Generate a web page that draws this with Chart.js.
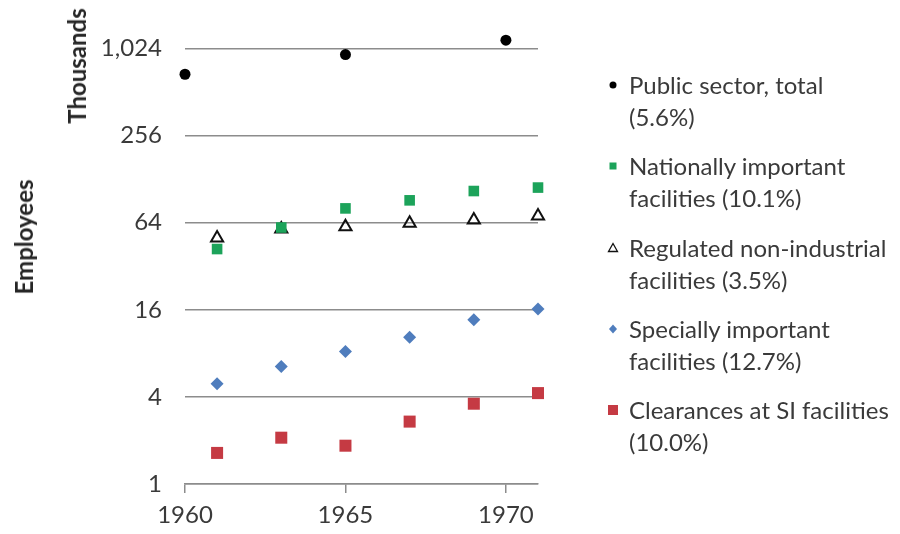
<!DOCTYPE html>
<html>
<head>
<meta charset="utf-8">
<script src="https://cdn.jsdelivr.net/npm/chart.js@4"></script>
<style>
  body { margin: 0; background: #fff; }
  #wrap { position: relative; width: 900px; height: 534px; font-family: Lato, sans-serif; }
  .ytitle { position: absolute; font-weight: bold; font-size: 24px; color: #262626; white-space: nowrap;
            transform: translate(-50%, -50%) rotate(-90deg); line-height: 1; }
  #legend { position: absolute; left: 0; top: 0; }
  .item { position: absolute; left: 629px; font-size: 24px; line-height: 32px; color: #3a3a3a; white-space: nowrap; }
  .item svg { position: absolute; top: 8px; }
</style>
</head>
<body>
<div id="wrap">
  <canvas id="myChart" width="900" height="534"></canvas>
  <div class="ytitle" style="left:77px; top:66px;">Thousands</div>
  <div class="ytitle" style="left:24px; top:237px;">Employees</div>
  <div id="legend"></div>
</div>
<script>
// x values
const yearsTotal = [1960, 1965, 1970];
const yearsOther = [1961, 1963, 1965, 1967, 1969, 1971];

// thousands of employees
const publicTotal = [680, 930, 1170];
const national = [42.1, 59.3, 80.4, 91.4, 106, 112];
const regulated = [50.2, 57.9, 60.1, 63.4, 66.8, 71.2];
const special = [4.93, 6.5, 8.25, 10.35, 13.65, 16.2];
const clearances = [1.64, 2.09, 1.84, 2.7, 3.59, 4.25];

const yTicks = [1, 4, 16, 64, 256, 1024];
const xTicks = [1960, 1965, 1970];

const labels = [
  ['Public sector, total', '(5.6%)'],
  ['Nationally important', 'facilities (10.1%)'],
  ['Regulated non-industrial', 'facilities (3.5%)'],
  ['Specially important', 'facilities (12.7%)'],
  ['Clearances at SI facilities', '(10.0%)']
];

const gridColor = '#8c8c8c';

function pts(xs, ys) {
  return xs.map((x, i) => ({x: x, y: ys[i]}));
}

const datasets = [
  {data: pts(yearsTotal, publicTotal), pointStyle: 'circle', pointRadius: 5.5,
   backgroundColor: '#000', borderColor: '#000', borderWidth: 0},
  {data: pts(yearsOther, national), pointStyle: 'rect', pointRadius: 7.5,
   backgroundColor: '#1ca35a', borderColor: '#1ca35a', borderWidth: 0},
  {data: pts(yearsOther, regulated), pointStyle: 'triangle', pointRadius: 7,
   backgroundColor: 'rgba(0,0,0,0)', borderColor: '#111', borderWidth: 2},
  {data: pts(yearsOther, special), pointStyle: 'rectRot', pointRadius: 6.5,
   backgroundColor: '#4f7dbd', borderColor: '#4f7dbd', borderWidth: 0},
  {data: pts(yearsOther, clearances), pointStyle: 'rect', pointRadius: 8.5,
   backgroundColor: '#c53a43', borderColor: '#c53a43', borderWidth: 0}
];
datasets.forEach((d, i) => {
  d.label = labels[i].join(' ');
  d.showLine = false;
  d.clip = false;
  d.pointHoverRadius = d.pointRadius;
});

Chart.defaults.font.family = 'Lato, sans-serif';
Chart.defaults.font.size = 24;
Chart.defaults.color = '#3a3a3a';

let myChart = new Chart(document.getElementById('myChart'), {
  type: 'scatter',
  data: {datasets: datasets},
  options: {
    responsive: false,
    animation: false,
    layout: {autoPadding: false, padding: {top: 5, right: 362, left: 0, bottom: 0}},
    plugins: {legend: {display: false}, tooltip: {enabled: false}},
    scales: {
      x: {
        type: 'linear', min: 1960, max: 1971,
        afterBuildTicks: s => { s.ticks = xTicks.map(v => ({value: v})); },
        afterFit: s => { s.height = 50; s.paddingLeft = 0; s.paddingRight = 0; },
        ticks: {callback: v => String(v), padding: 8, maxRotation: 0},
        grid: {display: true, drawOnChartArea: false, drawTicks: true, tickLength: 9,
               color: gridColor, lineWidth: 1.5},
        border: {display: true, color: gridColor, width: 1.5}
      },
      y: {
        type: 'logarithmic', min: 1, max: 2048,
        afterBuildTicks: s => { s.ticks = yTicks.map(v => ({value: v})); },
        afterFit: s => { s.width = 185; s.paddingTop = 0; s.paddingBottom = 0; },
        ticks: {callback: v => v.toLocaleString('en-US'), padding: 23},
        grid: {color: gridColor, lineWidth: 1.5, drawTicks: false},
        border: {display: false}
      }
    }
  }
});

// legend, drawn as html next to the plot
const legend = document.getElementById('legend');
const markers = [
  '<svg width="10" height="16" style="left:-21.5px"><circle cx="5" cy="8" r="3.5" fill="#000"/></svg>',
  '<svg width="10" height="16" style="left:-21.5px"><rect x="1.5" y="4.5" width="7" height="7" fill="#1ca35a"/></svg>',
  '<svg width="12" height="16" style="left:-22.5px"><polygon points="6,3.5 10.5,11.5 1.5,11.5" fill="none" stroke="#111" stroke-width="1.3"/></svg>',
  '<svg width="10" height="16" style="left:-21.5px"><polygon points="5,3.5 9,8 5,12.5 1,8" fill="#4f7dbd"/></svg>',
  '<svg width="12" height="16" style="left:-22.5px"><rect x="1" y="3" width="10" height="10" fill="#c53a43"/></svg>'
];
labels.forEach((l, i) => {
  const item = document.createElement('div');
  item.className = 'item';
  item.style.top = (69 + i * 81.25) + 'px';
  item.innerHTML = markers[i] + l[0] + '<br>' + l[1];
  legend.appendChild(item);
});
</script>
</body>
</html>
